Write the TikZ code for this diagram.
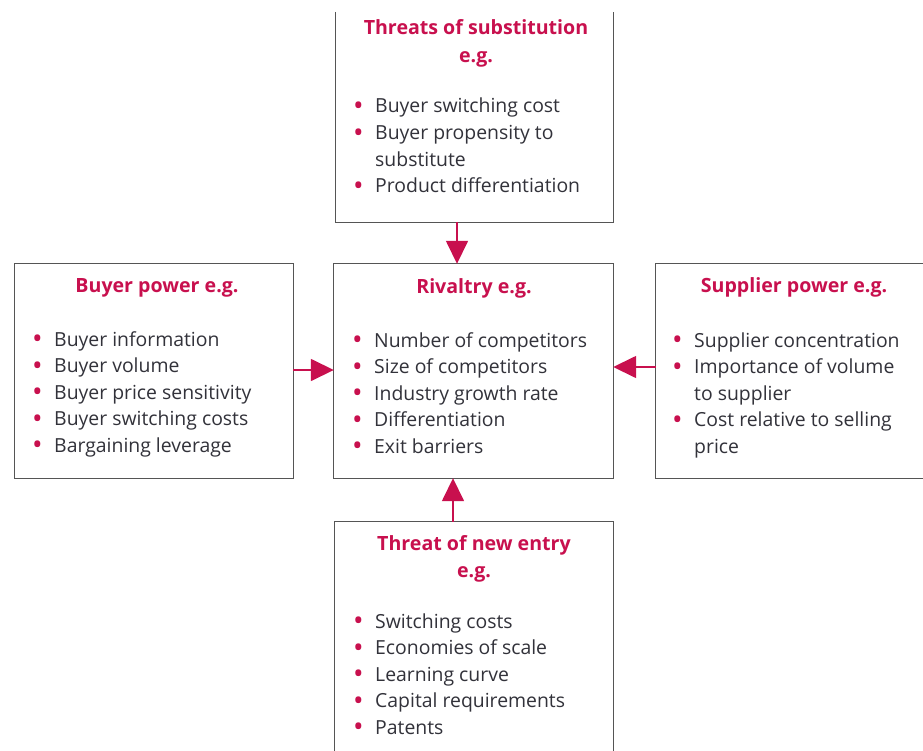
\documentclass[tikz,border=0pt]{standalone}
\usepackage{fontspec}
\setmainfont{Open Sans}
\usetikzlibrary{arrows.meta}
\definecolor{crim}{RGB}{200,16,78}
\definecolor{txt}{RGB}{50,50,58}
\definecolor{edge}{RGB}{85,85,85}
\newcommand\bul{\makebox[22pt][l]{\raisebox{-0.13em}{\scalebox{1.45}{\textcolor{crim}{\textbullet}}}}}
\newcommand\cont{\hspace*{22pt}}
\newcommand\blist[1]{\vtop{\baselineskip=26.6pt\lineskiplimit=-20pt\halign{##\hfil\cr#1\crcr}}}
\newcommand\btitle[1]{\vtop{\baselineskip=27.5pt\lineskiplimit=-20pt\halign{\hfil##\hfil\cr#1\crcr}}}
\begin{document}
\begin{tikzpicture}[x=1pt,y=-1pt,
  boxn/.style={draw=none,inner sep=0,minimum width=#1},
  border/.style={draw=edge,line width=1.3pt},
  titlen/.style={anchor=base,inner sep=0,text=crim,font=\fontsize{19.6}{22}\selectfont\bfseries},
  listn/.style={anchor=base west,inner sep=0,text=txt,font=\fontsize{19.4}{22}\selectfont},
  arr/.style={draw=crim,line width=1.6pt,-{Triangle[length=23pt,width=22pt]}}]
\useasboundingbox (0,0) rectangle (923,751);
\fill[white] (0,0) rectangle (923,751);
% boxes
\node[boxn=277pt,minimum height=210pt] (T) at (474.5,117) {};
\node[boxn=278pt,minimum height=214pt] (L) at (154,371) {};
\node[boxn=279pt,minimum height=214pt] (M) at (473.5,371) {};
\node[boxn=270pt,minimum height=214pt] (R) at (791,371) {};
\node[boxn=278pt,minimum height=236pt] (B) at (474,640) {};
\draw[border] (T.north west) -- (T.south west) -- (T.south east) -- (T.north east);
\draw[border] (L.north west) rectangle (L.south east);
\draw[border] (M.north west) rectangle (M.south east);
\draw[border] (R.north west) rectangle (R.south east);
\draw[border] (B.north west) rectangle (B.south east);
% titles
\node[titlen] (tT) at (476,35) {\btitle{Threats of substitution\cr e.g.}};
\node[titlen] (tL) at (157,292) {Buyer power e.g.};
\node[titlen] (tM) at (474,293) {Rivaltry e.g.};
\node[titlen] (tR) at (794,292) {Supplier power e.g.};
\node[titlen] (tB) at (474,550) {\btitle{Threat of new entry\cr e.g.}};
% lists
\node[listn] (lT) at (353,113) {\blist{\bul Buyer switching cost\cr \bul Buyer propensity to\cr \cont substitute\cr \bul Product differentiation}};
\node[listn] (lL) at (32,346) {\blist{\bul Buyer information\cr \bul Buyer volume\cr \bul Buyer price sensitivity\cr \bul Buyer switching costs\cr \bul Bargaining leverage}};
\node[listn] (lM) at (352,347) {\blist{\bul Number of competitors\cr \bul Size of competitors\cr \bul Industry growth rate\cr \bul Differentiation\cr \bul Exit barriers}};
\node[listn] (lR) at (672,347) {\blist{\bul Supplier concentration\cr \bul Importance of volume\cr \cont to supplier\cr \bul Cost relative to selling\cr \cont price}};
\node[listn] (lB) at (353,628) {\blist{\bul Switching costs\cr \bul Economies of scale\cr \bul Learning curve\cr \bul Capital requirements\cr \bul Patents}};
% arrows
\draw[arr] ([xshift=-17.5pt]T.south) -- ([xshift=-16.5pt]M.north);
\draw[arr] ([xshift=-21pt]B.north) -- ([xshift=-20.5pt]M.south);
\draw[arr] ([yshift=1pt]L.east) -- ([yshift=1pt]M.west);
\draw[arr] ([yshift=4pt]R.west) -- ([yshift=4pt]M.east);
\end{tikzpicture}
\end{document}
